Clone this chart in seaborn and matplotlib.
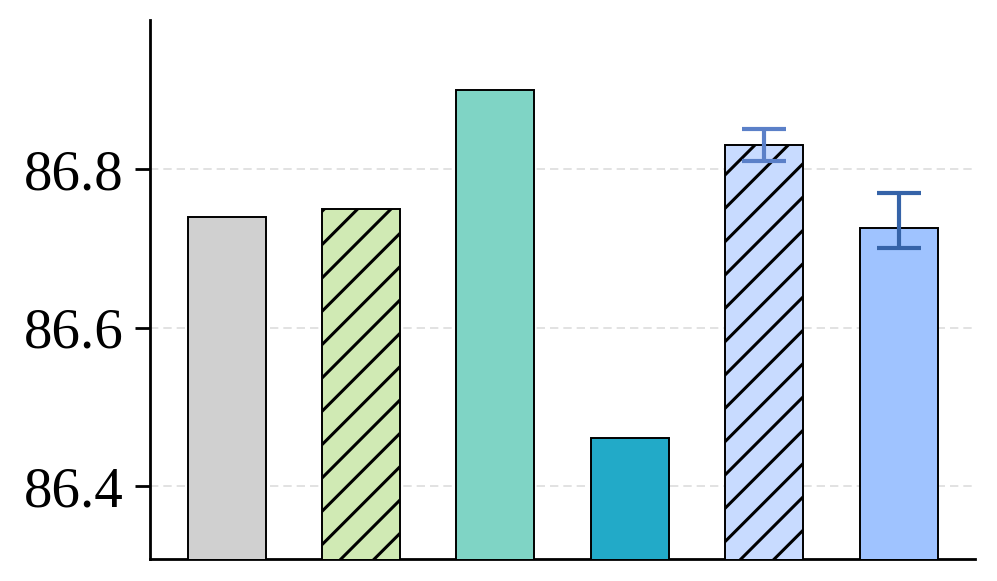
import matplotlib
matplotlib.use("Agg")
import matplotlib.pyplot as plt
import seaborn as sns
import pandas as pd

categories = ["A", "B", "C", "D", "E", "F"]
values = [86.74, 86.75, 86.90, 86.46, 86.83, 86.726]
err_low = [None, None, None, None, 86.81, 86.70]
err_high = [None, None, None, None, 86.85, 86.77]
colors = ["#d0d0d0", "#d0eab4", "#7fd4c5", "#22aac8", "#c8dbff", "#9fc3ff"]
hatches = ["", "//", "", "", "//", ""]
err_colors = [None, None, None, None, "#5b80c8", "#3563a8"]
yticks = [86.4, 86.6, 86.8]

sns.set_style("ticks")
plt.rcParams["font.family"] = ["Liberation Serif", "DejaVu Serif"]
plt.rcParams["hatch.linewidth"] = 1.1
plt.rcParams["text.color"] = "black"

df = pd.DataFrame({"cat": categories, "val": values})

fig = plt.figure(figsize=(4.985, 2.905), dpi=200)
ax = fig.add_axes([0.1505, 0.0379, 0.978 - 0.1505, 0.9656 - 0.0379])

sns.barplot(data=df, x="cat", y="val", hue="cat", palette=colors, legend=False,
            width=0.58, errorbar=None, ax=ax, edgecolor="black", linewidth=0.7,
            saturation=1, zorder=3)

for p, h in zip(ax.patches, hatches):
    if h:
        p.set_hatch(h)

for i in range(len(categories)):
    if err_low[i] is not None:
        lo = values[i] - err_low[i]
        hi = err_high[i] - values[i]
        ax.errorbar(i, values[i], yerr=[[lo], [hi]], fmt="none",
                    ecolor=err_colors[i], elinewidth=1.5, capsize=8,
                    capthick=1.5, zorder=5)

ax.set_ylim(86.308, 86.988)
ax.set_yticks(yticks)
ax.set_yticklabels([f"{t:.1f}" for t in yticks], color="black")
ax.set_xticks([])
ax.set_xlabel("")
ax.set_ylabel("")
ax.tick_params(axis="y", labelsize=20.5, length=5.5, width=1.0, pad=4, colors="black")
ax.yaxis.grid(True, linestyle=(0, (5, 3)), color="#dddddd", linewidth=0.6, zorder=0)
ax.set_axisbelow(True)
for s in ["top", "right"]:
    ax.spines[s].set_visible(False)
for s in ["left", "bottom"]:
    ax.spines[s].set_linewidth(1.0)
    ax.spines[s].set_color("black")

fig.savefig("out.png", dpi=200)
